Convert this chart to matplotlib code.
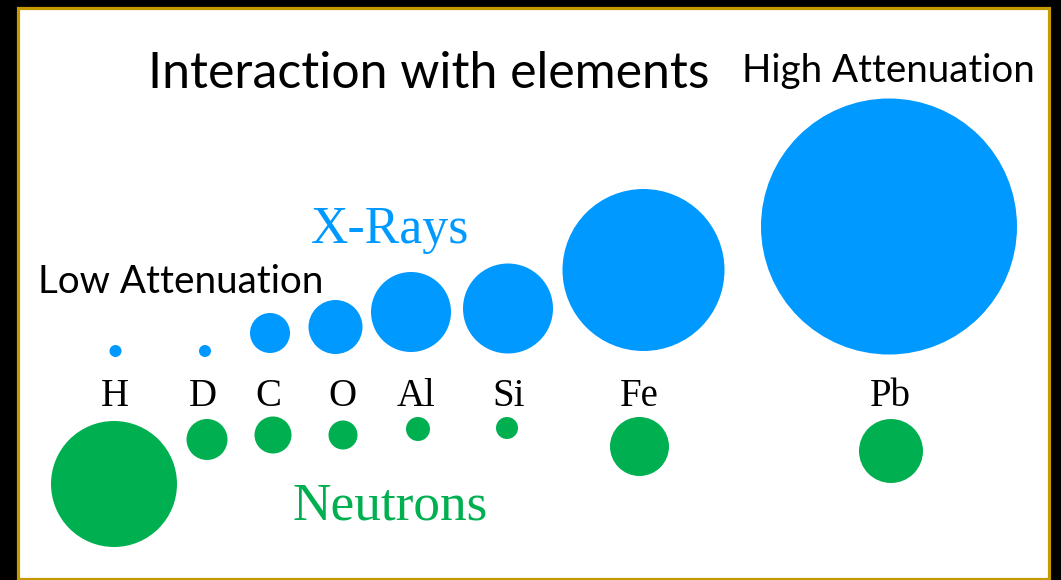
import matplotlib
matplotlib.use("Agg")
import matplotlib.pyplot as plt
from matplotlib.patches import Circle, Rectangle

# ---- data (pixel units) ----
elements = ["H", "D", "C", "O", "Al", "Si", "Fe", "Pb"]
label_x = [115, 203, 268, 342, 416, 509, 639, 890]
label_baseline = 406

xray_x = [115.5, 205, 270, 335.5, 411, 508, 643.5, 889]
xray_y = [351, 351, 333, 327, 312, 308.5, 270, 226.5]
xray_r = [6, 6, 20, 27, 40, 45, 81, 128]

neutron_x = [114, 207, 273, 343, 418, 507, 639.5, 891]
neutron_y = [484, 439.5, 435, 435, 429, 428, 446.5, 451]
neutron_r = [63, 20.5, 18.5, 14.5, 12, 11, 29.5, 32]

BLUE = "#0099FF"
GREEN = "#00B050"
GOLD = "#C49A00"

W, H = 1061, 580
fig = plt.figure(figsize=(W / 100, H / 100), dpi=100, facecolor="black")
ax = fig.add_axes([0, 0, 1, 1])
ax.set_xlim(0, W)
ax.set_ylim(H, 0)
ax.axis("off")
ax.set_facecolor("black")

ax.add_patch(Rectangle((17.5, 7.5), 1049.2 - 17.5, 579 - 7.5,
                       facecolor="white", edgecolor=GOLD, linewidth=2.3, zorder=1))

for x, y, r in zip(xray_x, xray_y, xray_r):
    ax.add_patch(Circle((x, y), r, facecolor=BLUE, edgecolor="none", zorder=2))
for x, y, r in zip(neutron_x, neutron_y, neutron_r):
    ax.add_patch(Circle((x, y), r, facecolor=GREEN, edgecolor="none", zorder=2))

serif = "Liberation Serif"
for lab, x in zip(elements, label_x):
    ax.text(x, label_baseline, lab, ha="center", va="baseline",
            fontsize=28, family=serif, color="black", zorder=3)

ax.text(390.5, 243, "X-Rays", ha="center", va="baseline", fontsize=37.4,
        family=serif, color=BLUE, zorder=3)
ax.text(390, 520, "Neutrons", ha="center", va="baseline", fontsize=38.3,
        family=serif, color=GREEN, zorder=3)

sans = "Lato"
ax.text(148, 88, "Interaction with elements", ha="left", va="baseline",
        fontsize=35.9, family=sans, color="black", zorder=3)
ax.text(742, 82, "High Attenuation", ha="left", va="baseline",
        fontsize=27.7, family=sans, color="black", zorder=3)
ax.text(38, 293, "Low Attenuation", ha="left", va="baseline",
        fontsize=27.8, family=sans, color="black", zorder=3)

fig.savefig("out.png", dpi=100, facecolor="black")
